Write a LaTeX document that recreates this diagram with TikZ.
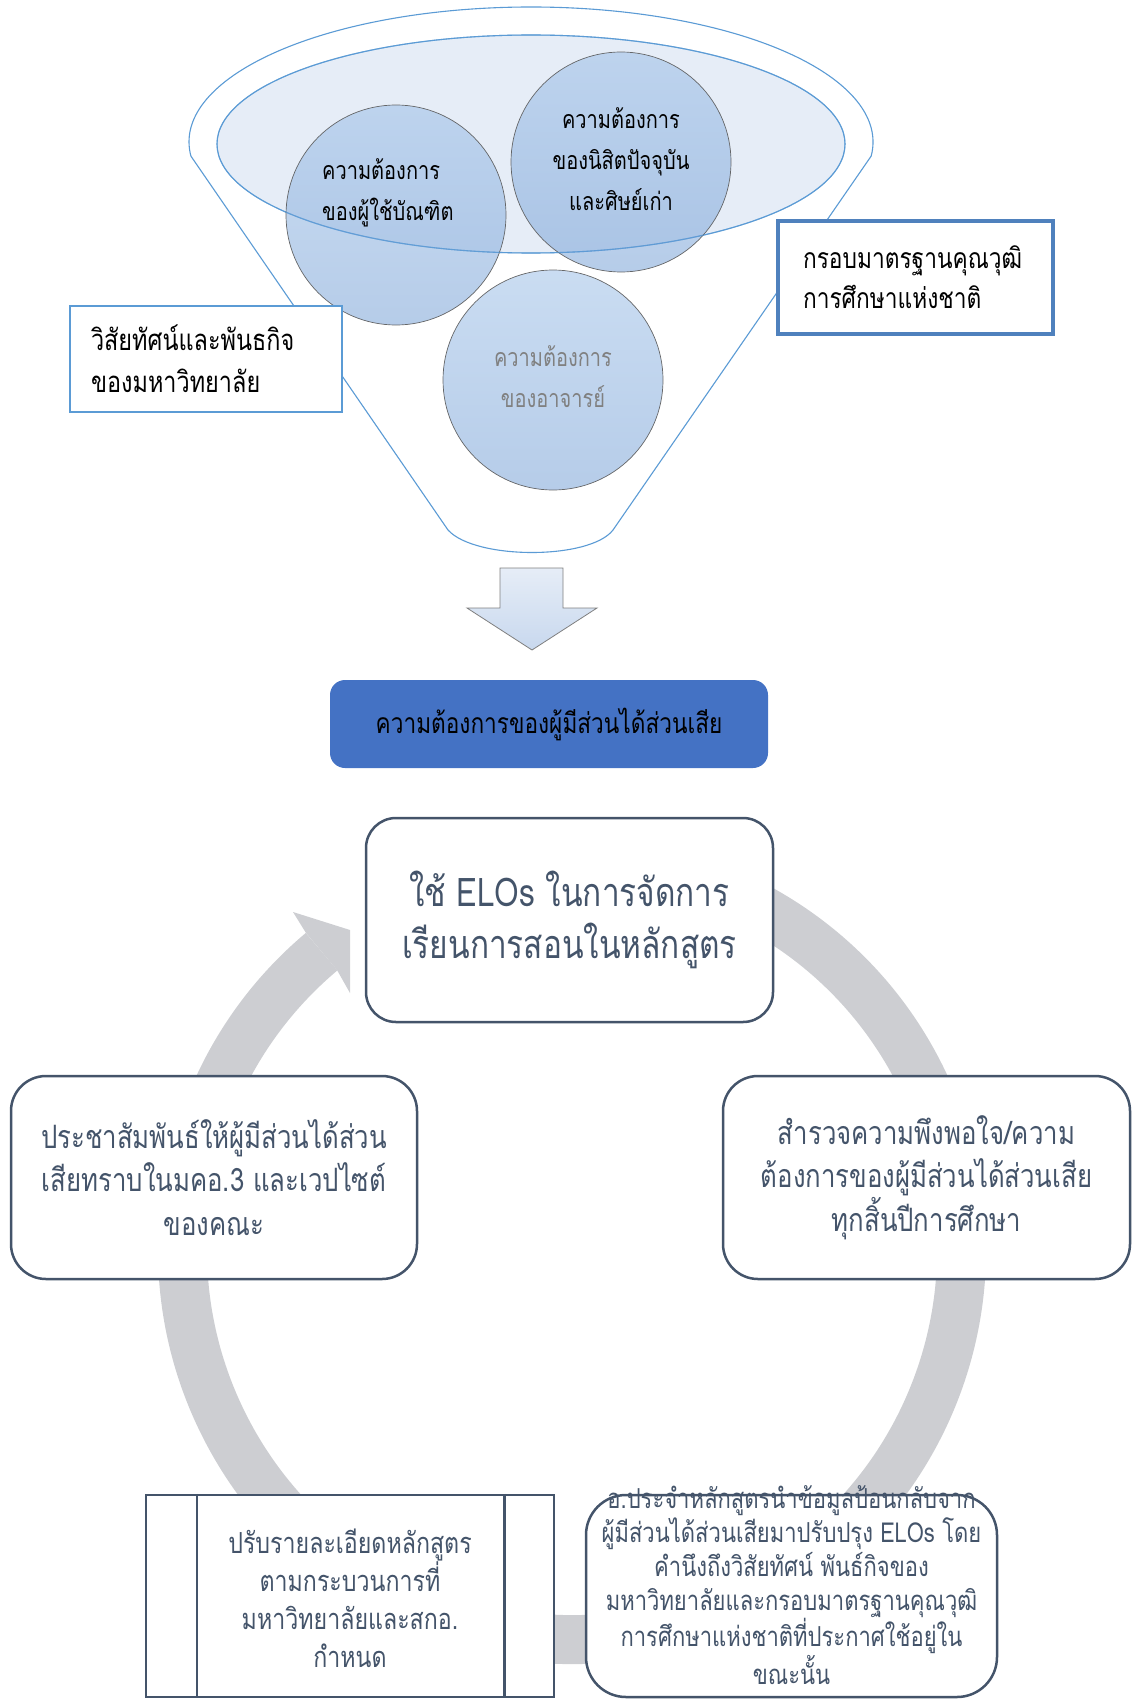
\documentclass[tikz,border=0pt]{standalone}
\usepackage{fontspec}
\newfontfamily\thai[Script=Thai,FakeStretch=0.8]{Loma}
\usetikzlibrary{shapes.geometric}
\definecolor{funnelblue}{HTML}{5B9BD5}
\definecolor{ellfill}{HTML}{E6EDF7}
\definecolor{bubtop}{RGB}{150,187,230}
\definecolor{bubbot}{RGB}{110,155,212}
\definecolor{bubedge}{HTML}{595959}
\definecolor{boxblue}{HTML}{5B9BD5}
\definecolor{boxbluedark}{HTML}{4F81BD}
\definecolor{arrtop}{HTML}{E6EDF7}
\definecolor{arrbot}{HTML}{C8D8EE}
\definecolor{arredge}{HTML}{7F7F7F}
\definecolor{stakeblue}{HTML}{4472C4}
\definecolor{slate}{HTML}{44546A}
\definecolor{ringgray}{HTML}{CDCED2}
\begin{document}
\begin{tikzpicture}[x=1pt,y=-1pt,
  funnelline/.style={draw=funnelblue, line width=1.1pt},
  bubble/.style={circle, inner sep=0, minimum size=220, draw=bubedge, line width=0.7pt,
    top color=bubtop, bottom color=bubbot, fill opacity=0.5, draw opacity=0.9},
  bubtext/.style={inner sep=0, font=\fontsize{25}{41}\selectfont\thai},
  infobox/.style={fill=white, inner ysep=0, align=left},
  cyc/.style={draw=slate, line width=2.5pt, fill=white, rounded corners=30, text=slate, align=center, inner sep=0},
  cyctext/.style={text=slate, align=center, inner sep=0}
]
\useasboundingbox (0,0) rectangle (1138,1699);

% funnel outline
\draw[funnelline, fill=white] (190.9,156.1) arc[start angle=174, end angle=366, x radius=342, y radius=135]
  -- (613,530) .. controls (590,560) and (475,560) .. (448,530) -- cycle;
\node[ellipse, draw=funnelblue, line width=1.1pt, fill=ellfill, minimum width=628, minimum height=218, inner sep=0] (inner) at (531,144) {};

% bubbles
\node[bubble] (b1) at (396,215) {};
\node[bubble] (b2) at (621,162) {};
\node[bubble] (b3) at (553,380) {};
\draw[funnelblue, line width=1.1pt, draw opacity=0.6] (inner.center) ellipse [x radius=314, y radius=109];

\node[bubtext, align=left, anchor=west] (t1) at (322,193) {ความต้องการ\\ของผู้ใช้บัณฑิต};
\node[bubtext, align=center] (t2) at (621,159) {ความต้องการ\\ของนิสิตปัจจุบัน\\และศิษย์เก่า};
\node[bubtext, align=center, text=black!50] (t3) at (553,377) {ความต้องการ\\ของอาจารย์};

% side boxes
\node[infobox, draw=boxblue, line width=2.5pt, minimum width=272, minimum height=106, inner xsep=21, text width=230, font=\fontsize{29.3}{42}\selectfont\thai] (vis) at (206,359) {วิสัยทัศน์และพันธกิจ\\ของมหาวิทยาลัย};
\node[infobox, draw=boxbluedark, line width=4pt, minimum width=275, minimum height=113, inner xsep=25, text width=225, font=\fontsize{28.4}{40}\selectfont\thai] (tqf) at (915.5,277.5) {กรอบมาตรฐานคุณวุฒิ\\การศึกษาแห่งชาติ};

% block arrow
\shade[top color=arrtop, bottom color=arrbot] (500,568) -- (563,568) -- (563,608) -- (597,608) -- (532,650) -- (467,608) -- (500,608) -- cycle;
\draw[arredge, line width=0.8pt, line join=miter] (500,568) -- (563,568) -- (563,608) -- (597,608) -- (532,650) -- (467,608) -- (500,608) -- cycle;

% stakeholder box
\node[fill=stakeblue, rounded corners=15, minimum width=438, minimum height=88, inner sep=0, font=\fontsize{28.3}{36}\selectfont\thai] (stake) at (549,724) {ความต้องการของผู้มีส่วนได้ส่วนเสีย};

% cycle ring
\draw[ringgray, line width=49pt] (407.4,897) arc[start angle=-115, end angle=230, radius=389.5];
\fill[ringgray] (306,933) -- (293,912) -- (350,930) -- (350,993) -- (337,970) -- cycle;

% cycle boxes
\node[cyc, minimum width=407, minimum height=204, font=\fontsize{39.5}{52}\selectfont\thai] (use) at (569.5,920) {ใช้ ELOs ในการจัดการ\\เรียนการสอนในหลักสูตร};
\node[cyc, rounded corners=35, minimum width=406, minimum height=203, font=\fontsize{32.2}{43.5}\selectfont\thai] (pr) at (214,1177.5) {ประชาสัมพันธ์ให้ผู้มีส่วนได้ส่วน\\เสียทราบในมคอ.3 และเวปไซต์\\ของคณะ};
\node[cyc, rounded corners=35, minimum width=407, minimum height=203, font=\fontsize{32.2}{43.5}\selectfont\thai] (survey) at (926.5,1177.5) {สำรวจความพึงพอใจ/ความ\\ต้องการของผู้มีส่วนได้ส่วนเสีย\\ทุกสิ้นปีการศึกษา};

\node[draw=slate, line width=2.5pt, fill=white, minimum width=408, minimum height=202, inner sep=0] (adj) at (350,1596) {};
\draw[slate, line width=2.5pt] ([xshift=52]adj.north west) -- ([xshift=52]adj.south west);
\draw[slate, line width=2.5pt] ([xshift=-51]adj.north east) -- ([xshift=-51]adj.south east);
\node[cyctext, font=\fontsize{29}{38}\selectfont\thai] (adjtxt) at (350,1598) {ปรับรายละเอียดหลักสูตร\\ตามกระบวนการที่\\มหาวิทยาลัยและสกอ.\\กำหนด};

\node[cyc, rounded corners=40, minimum width=411, minimum height=202] (fb) at (791.5,1596) {};
\node[cyctext, font=\fontsize{27.5}{34}\selectfont\thai] (fbtxt) at (791.5,1585) {อ.ประจำหลักสูตรนำข้อมูลป้อนกลับจาก\\ผู้มีส่วนได้ส่วนเสียมาปรับปรุง ELOs โดย\\คำนึงถึงวิสัยทัศน์ พันธ์กิจของ\\มหาวิทยาลัยและกรอบมาตรฐานคุณวุฒิ\\การศึกษาแห่งชาติที่ประกาศใช้อยู่ใน\\ขณะนั้น};
\end{tikzpicture}
\end{document}
